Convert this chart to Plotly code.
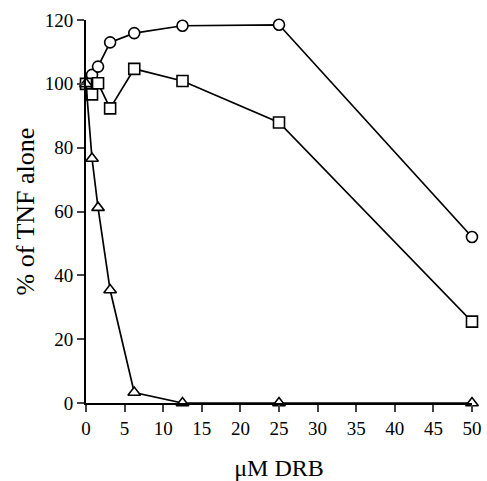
import plotly.graph_objects as go

conc = [0, 0.78, 1.56, 3.125, 6.25, 12.5, 25, 50]
circles = [100, 102.8, 105.4, 113.0, 115.9, 118.2, 118.5, 52.0]
squares = [100, 96.7, 100.2, 92.3, 104.7, 100.9, 87.9, 25.5]
triangles = [100, 76.6, 61.2, 35.4, 3.3, 0, 0, 0]
x_ticks = [0, 5, 10, 15, 20, 25, 30, 35, 40, 45, 50]
y_ticks = [0, 20, 40, 60, 80, 100, 120]

fig = go.Figure()
for ys, sym in [(circles, "circle"), (squares, "square"), (triangles, "triangle-up")]:
    fig.add_trace(go.Scatter(
        x=conc, y=ys, mode="lines+markers",
        line=dict(color="black", width=1.7),
        marker=dict(symbol=sym, size=11, color="white",
                    line=dict(color="black", width=1.6)),
        cliponaxis=False, showlegend=False))

font = "Liberation Serif, Times New Roman, serif"
fig.update_layout(
    width=487, height=481,
    margin=dict(l=86, r=15, t=20, b=78, autoexpand=False),
    paper_bgcolor="white", plot_bgcolor="white",
    font=dict(family=font, color="black", size=18),
    xaxis=dict(range=[0, 50], tickvals=x_ticks, ticks="outside", ticklen=7,
               tickwidth=1.5, showline=True, linecolor="black", linewidth=1.8,
               showgrid=False, zeroline=False, tickfont=dict(size=19),
               automargin=False,
               title=dict(text="μM DRB", font=dict(size=24), standoff=25)),
    yaxis=dict(range=[0, 120], tickvals=y_ticks, ticks="outside", ticklen=7,
               tickwidth=1.5, showline=True, linecolor="black", linewidth=1.8,
               showgrid=False, zeroline=False, tickfont=dict(size=19),
               automargin=False,
               title=dict(text="% of TNF alone", font=dict(size=26), standoff=3)),
)
fig.write_html(
    "out.html",
    config={"displayModeBar": False},
    post_script="document.body.style.margin='0';document.body.style.overflow='hidden';",
)
